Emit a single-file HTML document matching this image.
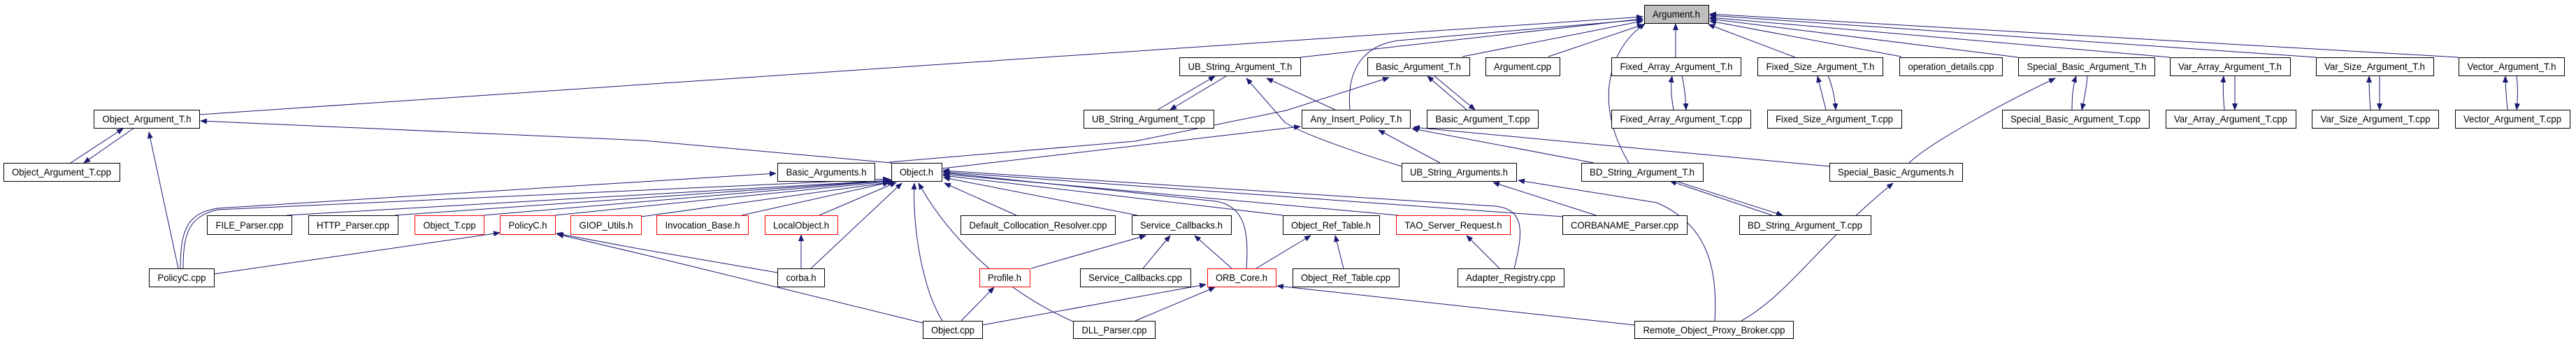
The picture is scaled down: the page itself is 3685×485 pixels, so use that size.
<!DOCTYPE html>
<html><head><meta charset="utf-8"><style>
html,body{margin:0;padding:0;background:#fff;}
svg{display:block;}
text{font-family:"Liberation Sans",sans-serif;font-size:14px;fill:#000;}
</style></head><body>
<svg width="3685" height="485" viewBox="0 0 3685 485" xmlns="http://www.w3.org/2000/svg">
<defs>
<marker id="a" markerWidth="10" markerHeight="8" refX="9" refY="4" orient="auto" markerUnits="userSpaceOnUse"><path d="M0,0 L10,4 L0,8 z" fill="#191970"/></marker>
</defs>
<g fill="none" stroke="#191970" stroke-width="1" marker-end="url(#a)">
<!-- to Argument.h -->
<path d="M285,164 L2350,24"/>
<path d="M1860,82 L2350,27"/>
<path d="M2092,81 L2350,30"/>
<path d="M2215,81 L2351,35"/>
<path d="M1931,157 C1926,100 1950,65 2000,58 L2350,28"/>
<path d="M2330,233 C2280,150 2300,70 2353,34"/>
<path d="M2397,82 L2397,34"/>
<path d="M2568,82 L2444,35"/>
<path d="M2720,81 L2446,30"/>
<path d="M2887,82 L2446,27"/>
<path d="M3104,82 L2446,25"/>
<path d="M3313,82 L2446,22"/>
<path d="M3517,82 L2446,20"/>
<!-- pairs -->
<path d="M101,233 L176,184"/><path d="M192,183 L120,233"/>
<path d="M1656,157 L1738,109"/><path d="M1754,109 L1674,157"/>
<path d="M2098,157 L2042,109"/><path d="M2051,108 L2110,157"/>
<path d="M2394,157 C2390,135 2390,120 2392,109"/><path d="M2406,108 C2410,125 2411,140 2412,157"/>
<path d="M2612,157 L2600,109"/><path d="M2615,108 C2622,125 2625,140 2626,157"/>
<path d="M2535,308 L2389,259"/><path d="M2397,259 L2550,308"/>
<path d="M2964,157 C2964,135 2966,120 2970,109"/><path d="M2986,108 C2985,125 2982,140 2978,157"/>
<path d="M3182,157 C3180,135 3180,120 3181,109"/><path d="M3197,108 L3197,157"/>
<path d="M3391,157 C3389,135 3389,120 3389,109"/><path d="M3404,108 L3404,157"/>
<path d="M3587,157 C3585,135 3584,120 3584,109"/><path d="M3600,108 C3602,125 3602,140 3600,157"/>
<!-- others -->
<path d="M1275,233 L920,201 L287,173"/>
<path d="M255,384 L213,189"/>
<path d="M258,384 C258,325 270,305 311,298 L1110,248"/>
<path d="M262,384 C262,330 272,310 311,300 L1272,256"/>
<path d="M306,392 L715,333"/>
<path d="M410,308 L1276,258"/>
<path d="M565,308 L1276,258"/>
<path d="M692,308 L1277,258"/>
<path d="M794,308 L1278,259"/>
<path d="M917,310 L1279,260"/>
<path d="M1061,308 L1272,261"/>
<path d="M1172,308 L1282,261"/>
<path d="M1160,384 L1290,262"/>
<path d="M1146,384 L1146,336"/>
<path d="M1112,390 L920,357 L796,334"/>
<path d="M1320,462 L920,364 L797,335"/>
<path d="M1348,459 C1318,410 1305,320 1308,262"/>
<path d="M1375,459 L1422,411"/>
<path d="M1405,465 L1725,407"/>
<path d="M1535,460 C1400,400 1335,300 1314,262"/>
<path d="M1624,459 L1738,411"/>
<path d="M1454,308 L1351,262"/>
<path d="M1627,308 L1350,254"/>
<path d="M1475,384 L1639,337"/>
<path d="M1635,384 L1674,337"/>
<path d="M1762,384 L1709,337"/>
<path d="M1783,384 C1787,330 1780,295 1740,288 L1350,247"/>
<path d="M1797,384 L1875,337"/>
<path d="M1835,308 L1349,251"/>
<path d="M2000,308 L1349,249"/>
<path d="M2237,310 L1349,246"/>
<path d="M2166,384 C2180,330 2180,300 2140,295 L1349,244"/>
<path d="M2145,384 L2098,337"/>
<path d="M1922,384 L1910,337"/>
<path d="M2338,465 L1827,409"/>
<path d="M2453,459 C2458,380 2440,320 2370,290 L2172,258"/>
<path d="M2491,459 C2560,420 2600,350 2708,262"/>
<path d="M2283,308 L2136,261"/>
<path d="M2060,233 L1972,186"/>
<path d="M2280,233 L2020,184"/>
<path d="M2617,238 L2022,182"/>
<path d="M2731,233 C2760,205 2860,150 2940,112"/>
<path d="M2005,238 C1930,215 1860,190 1838,175 L1783,112"/>
<path d="M1910,157 L1812,112"/>
<path d="M1348,241 L1860,181"/>
<path d="M1272,232 L1624,202 L1840,158 L1987,111"/>
</g>
<g stroke-width="1" fill="#fff">
<!-- row0 -->
<rect x="2352.5" y="7.5" width="92" height="26" fill="#bfbfbf" stroke="#000"/>
<!-- row1 -->
<rect x="1687.5" y="82.5" width="173" height="26" stroke="#000"/>
<rect x="1956.5" y="82.5" width="146" height="26" stroke="#000"/>
<rect x="2125.5" y="82.5" width="106" height="26" stroke="#000"/>
<rect x="2305.5" y="82.5" width="185" height="26" stroke="#000"/>
<rect x="2514.5" y="82.5" width="179" height="26" stroke="#000"/>
<rect x="2717.5" y="82.5" width="147" height="26" stroke="#000"/>
<rect x="2887.5" y="82.5" width="195" height="26" stroke="#000"/>
<rect x="3104.5" y="82.5" width="172" height="26" stroke="#000"/>
<rect x="3313.5" y="82.5" width="168" height="26" stroke="#000"/>
<rect x="3517.5" y="82.5" width="151" height="26" stroke="#000"/>
<!-- row2 -->
<rect x="134.5" y="157.5" width="151" height="26" stroke="#000"/>
<rect x="1550.5" y="157.5" width="186" height="26" stroke="#000"/>
<rect x="1862.5" y="157.5" width="155" height="26" stroke="#000"/>
<rect x="2041.5" y="157.5" width="159" height="26" stroke="#000"/>
<rect x="2305.5" y="157.5" width="199" height="26" stroke="#000"/>
<rect x="2528.5" y="157.5" width="192" height="26" stroke="#000"/>
<rect x="2864.5" y="157.5" width="210" height="26" stroke="#000"/>
<rect x="3098.5" y="157.5" width="186" height="26" stroke="#000"/>
<rect x="3307.5" y="157.5" width="181" height="26" stroke="#000"/>
<rect x="3512.5" y="157.5" width="164" height="26" stroke="#000"/>
<!-- row3 -->
<rect x="5.5" y="233.5" width="166" height="26" stroke="#000"/>
<rect x="1112.5" y="233.5" width="139" height="26" stroke="#000"/>
<rect x="1275.5" y="233.5" width="72" height="26" stroke="#000"/>
<rect x="2005.5" y="233.5" width="164" height="26" stroke="#000"/>
<rect x="2262.5" y="233.5" width="174" height="26" stroke="#000"/>
<rect x="2617.5" y="233.5" width="190" height="26" stroke="#000"/>
<!-- row4 -->
<rect x="296.5" y="308.5" width="121" height="27" stroke="#000"/>
<rect x="441.5" y="308.5" width="128" height="27" stroke="#000"/>
<rect x="593.5" y="308.5" width="99" height="27" stroke="#f00"/>
<rect x="715.5" y="308.5" width="79" height="27" stroke="#f00"/>
<rect x="816.5" y="308.5" width="101" height="27" stroke="#f00"/>
<rect x="939.5" y="308.5" width="131" height="27" stroke="#f00"/>
<rect x="1094.5" y="308.5" width="104" height="27" stroke="#f00"/>
<rect x="1374.5" y="308.5" width="221" height="27" stroke="#000"/>
<rect x="1619.5" y="308.5" width="142" height="27" stroke="#000"/>
<rect x="1835.5" y="308.5" width="138" height="27" stroke="#000"/>
<rect x="1997.5" y="308.5" width="163" height="27" stroke="#f00"/>
<rect x="2235.5" y="308.5" width="178" height="27" stroke="#000"/>
<rect x="2488.5" y="308.5" width="188" height="27" stroke="#000"/>
<!-- row5 -->
<rect x="213.5" y="384.5" width="93" height="26" stroke="#000"/>
<rect x="1112.5" y="384.5" width="67" height="26" stroke="#000"/>
<rect x="1401.5" y="384.5" width="72" height="26" stroke="#f00"/>
<rect x="1545.5" y="384.5" width="158" height="26" stroke="#000"/>
<rect x="1727.5" y="384.5" width="98" height="26" stroke="#f00"/>
<rect x="1849.5" y="384.5" width="152" height="26" stroke="#000"/>
<rect x="2085.5" y="384.5" width="152" height="26" stroke="#000"/>
<!-- row6 -->
<rect x="1320.5" y="459.5" width="85" height="25" stroke="#000"/>
<rect x="1535.5" y="459.5" width="117" height="25" stroke="#000"/>
<rect x="2338.5" y="459.5" width="227" height="25" stroke="#000"/>
</g>
<g text-anchor="middle" lengthAdjust="spacingAndGlyphs">
<text x="2398" y="25" textLength="68" lengthAdjust="spacingAndGlyphs">Argument.h</text>
<text x="1774" y="100" textLength="149" lengthAdjust="spacingAndGlyphs">UB_String_Argument_T.h</text>
<text x="2029" y="100" textLength="122" lengthAdjust="spacingAndGlyphs">Basic_Argument_T.h</text>
<text x="2178" y="100" textLength="82" lengthAdjust="spacingAndGlyphs">Argument.cpp</text>
<text x="2398" y="100" textLength="161" lengthAdjust="spacingAndGlyphs">Fixed_Array_Argument_T.h</text>
<text x="2604" y="100" textLength="155" lengthAdjust="spacingAndGlyphs">Fixed_Size_Argument_T.h</text>
<text x="2791" y="100" textLength="123" lengthAdjust="spacingAndGlyphs">operation_details.cpp</text>
<text x="2985" y="100" textLength="171" lengthAdjust="spacingAndGlyphs">Special_Basic_Argument_T.h</text>
<text x="3190" y="100" textLength="148" lengthAdjust="spacingAndGlyphs">Var_Array_Argument_T.h</text>
<text x="3397" y="100" textLength="144" lengthAdjust="spacingAndGlyphs">Var_Size_Argument_T.h</text>
<text x="3593" y="100" textLength="127" lengthAdjust="spacingAndGlyphs">Vector_Argument_T.h</text>
<text x="210" y="175" textLength="127" lengthAdjust="spacingAndGlyphs">Object_Argument_T.h</text>
<text x="1643" y="175" textLength="162" lengthAdjust="spacingAndGlyphs">UB_String_Argument_T.cpp</text>
<text x="1940" y="175" textLength="131" lengthAdjust="spacingAndGlyphs">Any_Insert_Policy_T.h</text>
<text x="2121" y="175" textLength="135" lengthAdjust="spacingAndGlyphs">Basic_Argument_T.cpp</text>
<text x="2405" y="175" textLength="175" lengthAdjust="spacingAndGlyphs">Fixed_Array_Argument_T.cpp</text>
<text x="2624" y="175" textLength="168" lengthAdjust="spacingAndGlyphs">Fixed_Size_Argument_T.cpp</text>
<text x="2969" y="175" textLength="186" lengthAdjust="spacingAndGlyphs">Special_Basic_Argument_T.cpp</text>
<text x="3191" y="175" textLength="162" lengthAdjust="spacingAndGlyphs">Var_Array_Argument_T.cpp</text>
<text x="3398" y="175" textLength="157" lengthAdjust="spacingAndGlyphs">Var_Size_Argument_T.cpp</text>
<text x="3594" y="175" textLength="140" lengthAdjust="spacingAndGlyphs">Vector_Argument_T.cpp</text>
<text x="88" y="251" textLength="142" lengthAdjust="spacingAndGlyphs">Object_Argument_T.cpp</text>
<text x="1182" y="251" textLength="115" lengthAdjust="spacingAndGlyphs">Basic_Arguments.h</text>
<text x="1311" y="251" textLength="48" lengthAdjust="spacingAndGlyphs">Object.h</text>
<text x="2087" y="251" textLength="140" lengthAdjust="spacingAndGlyphs">UB_String_Arguments.h</text>
<text x="2349" y="251" textLength="150" lengthAdjust="spacingAndGlyphs">BD_String_Argument_T.h</text>
<text x="2712" y="251" textLength="166" lengthAdjust="spacingAndGlyphs">Special_Basic_Arguments.h</text>
<text x="357" y="327" textLength="97" lengthAdjust="spacingAndGlyphs">FILE_Parser.cpp</text>
<text x="505" y="327" textLength="104" lengthAdjust="spacingAndGlyphs">HTTP_Parser.cpp</text>
<text x="643" y="327" textLength="75" lengthAdjust="spacingAndGlyphs">Object_T.cpp</text>
<text x="755" y="327" textLength="55" lengthAdjust="spacingAndGlyphs">PolicyC.h</text>
<text x="867" y="327" textLength="77" lengthAdjust="spacingAndGlyphs">GIOP_Utils.h</text>
<text x="1005" y="327" textLength="107" lengthAdjust="spacingAndGlyphs">Invocation_Base.h</text>
<text x="1146" y="327" textLength="80" lengthAdjust="spacingAndGlyphs">LocalObject.h</text>
<text x="1485" y="327" textLength="197" lengthAdjust="spacingAndGlyphs">Default_Collocation_Resolver.cpp</text>
<text x="1690" y="327" textLength="118" lengthAdjust="spacingAndGlyphs">Service_Callbacks.h</text>
<text x="1904" y="327" textLength="114" lengthAdjust="spacingAndGlyphs">Object_Ref_Table.h</text>
<text x="2079" y="327" textLength="139" lengthAdjust="spacingAndGlyphs">TAO_Server_Request.h</text>
<text x="2324" y="327" textLength="154" lengthAdjust="spacingAndGlyphs">CORBANAME_Parser.cpp</text>
<text x="2582" y="327" textLength="164" lengthAdjust="spacingAndGlyphs">BD_String_Argument_T.cpp</text>
<text x="260" y="402" textLength="69" lengthAdjust="spacingAndGlyphs">PolicyC.cpp</text>
<text x="1146" y="402" textLength="43" lengthAdjust="spacingAndGlyphs">corba.h</text>
<text x="1437" y="402" textLength="48" lengthAdjust="spacingAndGlyphs">Profile.h</text>
<text x="1624" y="402" textLength="134" lengthAdjust="spacingAndGlyphs">Service_Callbacks.cpp</text>
<text x="1776" y="402" textLength="74" lengthAdjust="spacingAndGlyphs">ORB_Core.h</text>
<text x="1925" y="402" textLength="128" lengthAdjust="spacingAndGlyphs">Object_Ref_Table.cpp</text>
<text x="2161" y="402" textLength="128" lengthAdjust="spacingAndGlyphs">Adapter_Registry.cpp</text>
<text x="1363" y="477" textLength="62" lengthAdjust="spacingAndGlyphs">Object.cpp</text>
<text x="1594" y="477" textLength="93" lengthAdjust="spacingAndGlyphs">DLL_Parser.cpp</text>
<text x="2452" y="477" textLength="203" lengthAdjust="spacingAndGlyphs">Remote_Object_Proxy_Broker.cpp</text>
</g>
</svg>
</body></html>
